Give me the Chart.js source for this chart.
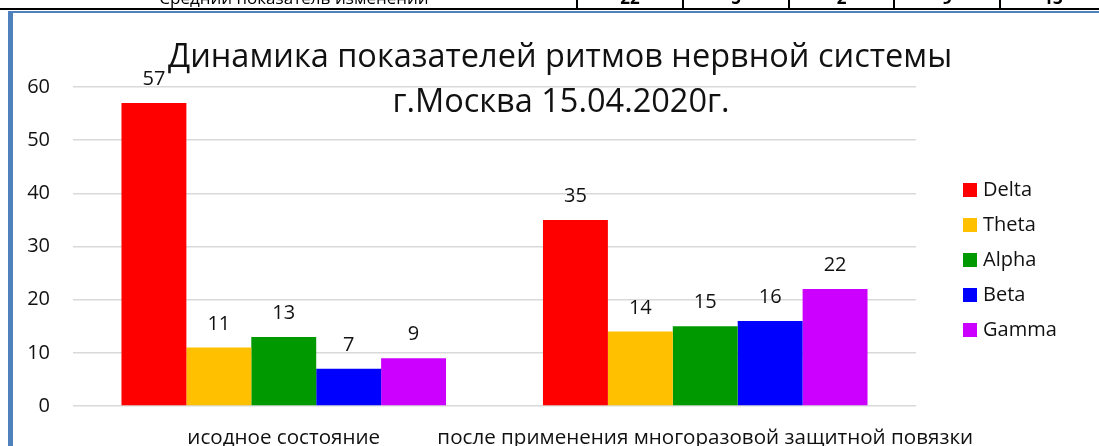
<!DOCTYPE html>
<html>
<head>
<meta charset="utf-8">
<script src="https://cdn.jsdelivr.net/npm/chart.js@4"></script>
<style>
  body { margin: 0; background: #fff; overflow: hidden; }
  #wrap { position: relative; width: 1099px; height: 446px; }
  #chart { position: absolute; left: 0; top: 0; }
  .strip { position: absolute; top: 0; height: 9px; overflow: hidden; font-family: "Open Sans", sans-serif; font-size: 17px; line-height: 20px; color: #000; }
  .strip span { position: absolute; top: -12px; white-space: nowrap; transform: translateX(-50%); }
  .vline { position: absolute; top: 0; width: 2px; height: 9px; background: #000; }
</style>
</head>
<body>
<div id="wrap">
  <canvas id="chart" width="1099" height="446"></canvas>
  <div class="strip" id="strip" style="left:0;width:1099px;"></div>
  <div style="position:absolute;left:0;top:8px;width:1099px;height:2px;background:#000;"></div>
  <div style="position:absolute;left:8px;top:11px;width:1091px;height:2px;background:#4f81bd;"></div>
  <div style="position:absolute;left:8px;top:11px;width:5px;height:435px;background:#4f81bd;"></div>
</div>
<script>
const categories = ['исодное состояние', 'после применения многоразовой защитной повязки'];
const seriesNames = ['Delta', 'Theta', 'Alpha', 'Beta', 'Gamma'];
const delta = [57, 35];
const theta = [11, 14];
const alpha = [13, 15];
const beta = [7, 16];
const gamma = [9, 22];
const yMin = 0, yMax = 60, yStep = 10;
const titleLines = ['Динамика показателей ритмов нервной системы', 'г.Москва 15.04.2020г.'];
const tableLabel = 'Средний показатель изменений';
const tableValues = [22, 5, 2, 9, 13];

const colors = ['#ff0000', '#ffc000', '#009900', '#0000ff', '#cc00ff'];
const FONT = '"Open Sans", sans-serif';

// cut-off table row above the chart
const strip = document.getElementById('strip');
let html = '<span style="left:294px">' + tableLabel + '</span>';
const cellEdges = [577, 683, 789, 894, 1000, 1106];
tableValues.forEach((v, i) => {
    const cx = (cellEdges[i] + cellEdges[i + 1]) / 2;
    html += '<span style="left:' + cx + 'px;font-weight:bold">' + v + '</span>';
});
strip.innerHTML = html;
cellEdges.slice(0, 5).forEach(x => {
    const d = document.createElement('div');
    d.className = 'vline';
    d.style.left = (x - 1) + 'px';
    document.getElementById('wrap').appendChild(d);
});

const valueLabels = {
    id: 'valueLabels',
    afterDatasetsDraw(chart) {
        const ctx = chart.ctx;
        ctx.save();
        ctx.font = '20px ' + FONT;
        ctx.fillStyle = '#111';
        ctx.textAlign = 'center';
        ctx.textBaseline = 'alphabetic';
        chart.data.datasets.forEach((ds, i) => {
            chart.getDatasetMeta(i).data.forEach((bar, j) => {
                ctx.fillText(ds.data[j], bar.x, bar.y - 18);
            });
        });
        ctx.restore();
    }
};

const titleAndLegend = {
    id: 'titleAndLegend',
    afterDraw(chart) {
        const ctx = chart.ctx;
        ctx.save();
        ctx.fillStyle = '#111';
        ctx.textAlign = 'center';
        ctx.textBaseline = 'alphabetic';
        ctx.font = '32.5px ' + FONT;
        ctx.fillText(titleLines[0], 560, 67);
        ctx.fillText(titleLines[1], 561, 112);

        ctx.textAlign = 'left';
        ctx.textBaseline = 'middle';
        ctx.font = '20px ' + FONT;
        chart.data.datasets.forEach((ds, i) => {
            const cy = 190 + i * 35;
            ctx.fillStyle = ds.backgroundColor;
            ctx.fillRect(963, cy - 7, 14, 14);
            ctx.fillStyle = '#111';
            ctx.fillText(ds.label, 983, cy);
        });
        ctx.restore();
    }
};

const seriesData = [delta, theta, alpha, beta, gamma];

new Chart(document.getElementById('chart').getContext('2d'), {
    type: 'bar',
    data: {
        labels: categories,
        datasets: seriesNames.map((name, i) => ({
            label: name,
            data: seriesData[i],
            backgroundColor: colors[i],
            barPercentage: 1.0,
            categoryPercentage: 0.77
        }))
    },
    options: {
        responsive: false,
        animation: false,
        layout: {
            padding: { top: 87, right: 183, bottom: 0, left: 0 }
        },
        plugins: {
            legend: { display: false },
            title: { display: false },
            tooltip: { enabled: false }
        },
        scales: {
            x: {
                grid: { display: false, drawTicks: false },
                border: { display: false },
                ticks: {
                    padding: 20,
                    color: '#111',
                    font: { family: FONT, size: 20.6 },
                    maxRotation: 0,
                    autoSkip: false
                },
                afterFit(scale) { scale.height = 40; }
            },
            y: {
                min: yMin,
                max: yMax,
                grid: { color: '#d9d9d9', lineWidth: 1.5, drawTicks: false },
                border: { display: false },
                ticks: {
                    stepSize: yStep,
                    padding: 23,
                    color: '#111',
                    font: { family: FONT, size: 20 }
                },
                afterFit(scale) { scale.width = 73; }
            }
        }
    },
    plugins: [valueLabels, titleAndLegend]
});
</script>
</body>
</html>
